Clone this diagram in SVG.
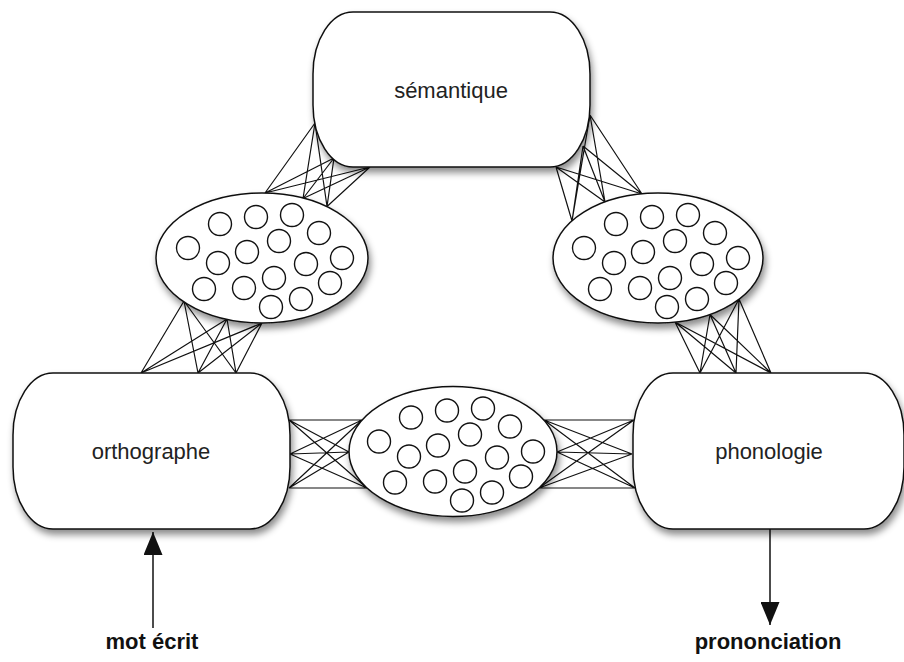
<svg xmlns="http://www.w3.org/2000/svg" xmlns:xlink="http://www.w3.org/1999/xlink" width="904" height="662" viewBox="0 0 904 662">
<style>
.box{fill:#fff;stroke:#111;stroke-width:1.5}
.ell{fill:#fff;stroke:#111;stroke-width:1.5}
.dot{fill:none;stroke:#111;stroke-width:1.4}
.ln{stroke:#111;stroke-width:1.2;fill:none}
.lbl{font-family:"Liberation Sans",Arial,Helvetica,sans-serif;font-size:22px;fill:#222;text-anchor:middle}
.io{font-family:"Liberation Sans",Arial,Helvetica,sans-serif;font-size:22px;font-weight:bold;fill:#111;text-anchor:middle}
.arr{stroke:#111;stroke-width:1.5;fill:none}
</style>
<defs>
<filter id="sh" x="-20%" y="-20%" width="140%" height="150%">
<feDropShadow dx="2" dy="5" stdDeviation="3.5" flood-color="#000" flood-opacity="0.45"/>
</filter>
<g id="dots">
<circle class="dot" cx="-42" cy="-34" r="11.5"/>
<circle class="dot" cx="-6" cy="-41" r="11.5"/>
<circle class="dot" cx="30" cy="-43" r="11.5"/>
<circle class="dot" cx="57" cy="-25" r="11.5"/>
<circle class="dot" cx="-74" cy="-10" r="11.5"/>
<circle class="dot" cx="-44" cy="5" r="11.5"/>
<circle class="dot" cx="-15" cy="-6" r="11.5"/>
<circle class="dot" cx="17" cy="-17" r="11.5"/>
<circle class="dot" cx="44" cy="6" r="11.5"/>
<circle class="dot" cx="80" cy="0" r="11.5"/>
<circle class="dot" cx="-58" cy="31" r="11.5"/>
<circle class="dot" cx="-18" cy="30" r="11.5"/>
<circle class="dot" cx="12" cy="20" r="11.5"/>
<circle class="dot" cx="68" cy="25" r="11.5"/>
<circle class="dot" cx="9" cy="49" r="11.5"/>
<circle class="dot" cx="39" cy="41" r="11.5"/>
</g>
<marker id="ah" markerWidth="23" markerHeight="19" refX="23" refY="9.5" orient="auto" markerUnits="userSpaceOnUse" viewBox="0 0 23 19">
<path d="M0,0 L23,9.5 L0,19 Z" fill="#111"/>
</marker>
</defs>
<rect width="904" height="662" fill="#fff"/>

<g id="connectors">
<path class="ln" d="M315,123 L265,193 M315,123 L303,198.5 M315,123 L327,206.5 M334,158 L265,193 M334,158 L303,198.5 M334,158 L327,206.5 M370,167 L265,193 M370,167 L303,198.5 M370,167 L327,206.5"/>
<path class="ln" d="M184,301 L141,373 M184,301 L198,373 M184,301 L236,373 M227,319 L141,373 M227,319 L198,373 M227,319 L236,373 M262,323 L141,373 M262,323 L198,373 M262,323 L236,373"/>
<path class="ln" d="M590,115 L572,221 M590,115 L605,202 M590,115 L642,194 M583,146 L572,221 M583,146 L605,202 M583,146 L642,194 M556,167 L572,221 M556,167 L605,202 M556,167 L642,194"/>
<path class="ln" d="M675,322 L700,373 M675,322 L736,373 M675,322 L771,373 M710,314.5 L700,373 M710,314.5 L736,373 M710,314.5 L771,373 M739,299 L700,373 M739,299 L736,373 M739,299 L771,373"/>
<path class="ln" d="M289,420 L362,420 M289,420 L349,452 M289,420 L367,488 M290,454 L362,420 M290,454 L349,452 M290,454 L367,488 M289,488 L362,420 M289,488 L349,452 M289,488 L367,488"/>
<path class="ln" d="M544,420 L634,420 M544,420 L632,454 M544,420 L635,488 M557,452 L634,420 M557,452 L632,454 M557,452 L635,488 M539,488 L634,420 M539,488 L632,454 M539,488 L635,488"/>
<line class="arr" x1="153" y1="628" x2="153" y2="532" marker-end="url(#ah)"/>
<line class="arr" x1="770" y1="529" x2="770" y2="625" marker-end="url(#ah)"/>
</g>

<g id="hidden-left">
<ellipse class="ell" cx="262" cy="258" rx="106" ry="65" filter="url(#sh)"/>
<use xlink:href="#dots" href="#dots" x="262" y="258"/>
</g>
<g id="hidden-right">
<ellipse class="ell" cx="658" cy="258" rx="105" ry="65" filter="url(#sh)"/>
<use xlink:href="#dots" href="#dots" x="658" y="258"/>
</g>
<g id="hidden-bottom">
<ellipse class="ell" cx="453" cy="451.5" rx="104" ry="65" filter="url(#sh)"/>
<use xlink:href="#dots" href="#dots" x="453" y="451.5"/>
</g>

<g id="semantique">
<rect class="box" x="313" y="12" width="277" height="155" rx="40" ry="62" filter="url(#sh)"/>
<text class="lbl" x="451" y="98">sémantique</text>
</g>
<g id="orthographe">
<rect class="box" x="13" y="373" width="277" height="156" rx="40" ry="62" filter="url(#sh)"/>
<text class="lbl" x="151" y="459">orthographe</text>
</g>
<g id="phonologie">
<rect class="box" x="633" y="373" width="271" height="156" rx="40" ry="62" filter="url(#sh)"/>
<text class="lbl" x="769" y="459">phonologie</text>
</g>

<g id="mot-ecrit">
<text class="io" x="152" y="649">mot écrit</text>
</g>
<g id="prononciation">
<text class="io" x="768" y="649">prononciation</text>
</g>
</svg>
